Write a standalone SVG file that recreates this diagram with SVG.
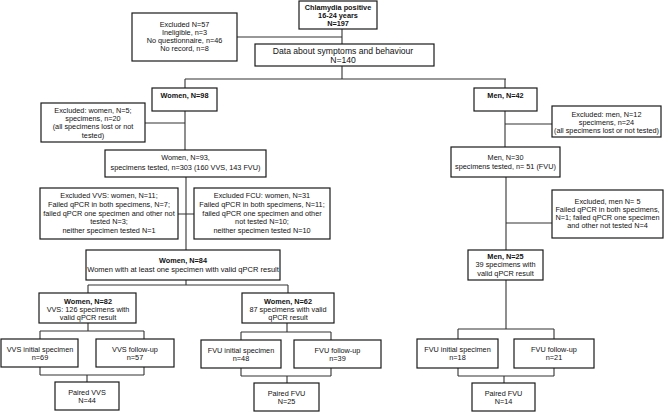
<svg xmlns="http://www.w3.org/2000/svg" width="664" height="413" viewBox="0 0 664 413">
<style>
rect{fill:#fff;stroke:#1a1a1a;stroke-width:1.2}
text{font-family:"Liberation Sans",Arial,sans-serif;font-size:7.3px;fill:#111;text-anchor:middle}
.b{font-weight:bold}
.l{font-size:8.6px}
#connectors path{fill:none;stroke:#333;stroke-width:1.1}
</style>
<rect x="0" y="0" width="664" height="413" style="stroke:none"/>
<g id="connectors">
<path d="M342,29V44M237,37H342M342,66V79M185,79H506M185,79V88M505,79V88"/>
<path d="M185,111V150M145,123H185M186,177V250M178,214H194"/>
<path d="M186,280V285M88,285H288M88,285V293M288,285V293"/>
<path d="M88,323V331M40,331H144M40,331V339M144,331V339M40,367V375M144,367V375M40,375H144M87,375V382"/>
<path d="M287,323V332M241,332H331M241,332V340M331,332V340M241,368V376M331,368V376M241,376H331M287,376V383"/>
<path d="M505,111V147M505,124H552M506,177V250M506,223H552"/>
<path d="M506,280V329M458,329H554M458,329V339M554,329V339M458,368V376M554,368V376M458,376H554M504,376V383"/>
</g>
<g id="n_chlamydia"><rect x="299" y="1" width="78" height="28"/>
<text class="b" x="338" y="10">Chlamydia positive</text><text class="b" x="338" y="18">16-24 years</text><text class="b" x="338" y="26">N=197</text></g>
<g id="n_excl57"><rect x="132" y="13" width="105" height="48"/>
<text x="184.5" y="27">Excluded N=57</text><text x="184.5" y="35">Ineligible, n=3</text><text x="184.5" y="43">No questionnaire, n=46</text><text x="184.5" y="51">No record, n=8</text></g>
<g id="n_data"><rect x="255" y="44" width="179" height="22"/>
<text class="l" x="343" y="54">Data about symptoms and behaviour</text><text class="l" x="343" y="63">N=140</text></g>
<g id="n_women98"><rect x="152" y="88" width="65" height="23"/>
<text class="b" x="184.5" y="97.5">Women, N=98</text></g>
<g id="n_exclwomen"><rect x="41" y="103" width="104" height="39"/>
<text x="93" y="112.5">Excluded: women, N=5;</text><text x="93" y="120.5">specimens, n=20</text><text x="93" y="129">(all specimens lost or not</text><text x="93" y="137.5">tested)</text></g>
<g id="n_women93"><rect x="105" y="150" width="161" height="27"/>
<text x="185.5" y="160">Women, N=93,</text><text x="185.5" y="169.5">specimens tested, n=303 (160 VVS, 143 FVU)</text></g>
<g id="n_exclvvs"><rect x="40" y="188" width="138" height="51"/>
<text x="109" y="197.5">Excluded VVS: women, N=11;</text><text x="109" y="206.5">Failed qPCR in both specimens, N=7;</text><text x="109" y="215.5">failed qPCR one specimen and other not</text><text x="109" y="224">tested N=3;</text><text x="109" y="232.5">neither specimen tested N=1</text></g>
<g id="n_exclfcu"><rect x="194" y="188" width="136" height="51"/>
<text x="262" y="197.5">Excluded FCU: women, N=31</text><text x="262" y="206.5">Failed qPCR in both specimens, N=11;</text><text x="262" y="215.5">failed qPCR one specimen and other</text><text x="262" y="224">not tested N=10;</text><text x="262" y="232.5">neither specimen tested N=10</text></g>
<g id="n_women84"><rect x="86" y="250" width="194" height="30"/>
<text class="b" x="183" y="262.5">Women, N=84</text><text x="183" y="271.5" style="font-size:7.5px">Women with at least one specimen with valid qPCR result</text></g>
<g id="n_women82"><rect x="39" y="293" width="97" height="30"/>
<text class="b" x="88" y="304">Women, N=82</text><text x="88" y="312">VVS: 126 specimens with</text><text x="88" y="320">valid qPCR result</text></g>
<g id="n_women62"><rect x="242" y="293" width="92" height="30"/>
<text class="b" x="288" y="304">Women, N=62</text><text x="288" y="312">87 specimens with valid</text><text x="288" y="320">qPCR result</text></g>
<g id="n_vvsinit"><rect x="1" y="339" width="77" height="28"/>
<text x="40" y="352">VVS initial specimen</text><text x="40" y="360">n=69</text></g>
<g id="n_vvsfu"><rect x="96" y="339" width="78" height="28"/>
<text x="135" y="352">VVS follow-up</text><text x="135" y="360">n=57</text></g>
<g id="n_pairedvvs"><rect x="55" y="382" width="64" height="28"/>
<text x="87" y="395">Paired VVS</text><text x="87" y="403">N=44</text></g>
<g id="n_fvuinitw"><rect x="201" y="340" width="80" height="28"/>
<text x="241" y="353">FVU initial specimen</text><text x="241" y="361">n=48</text></g>
<g id="n_fvufuw"><rect x="294" y="340" width="87" height="28"/>
<text x="337.5" y="353">FVU follow-up</text><text x="337.5" y="361">n=39</text></g>
<g id="n_pairedfvuw"><rect x="254" y="383" width="65" height="28"/>
<text x="286.5" y="396">Paired FVU</text><text x="286.5" y="404">N=25</text></g>
<g id="n_men42"><rect x="474" y="88" width="63" height="23"/>
<text class="b" x="505.5" y="97.5">Men, N=42</text></g>
<g id="n_exclmen12"><rect x="552" y="106" width="109" height="31"/>
<text x="606.5" y="117">Excluded: men, N=12</text><text x="606.5" y="125">specimens, n=24</text><text x="606.5" y="133">(all specimens lost or not tested)</text></g>
<g id="n_men30"><rect x="451" y="147" width="109" height="30"/>
<text x="505.5" y="160">Men, N=30</text><text x="505.5" y="168.5">specimens tested, n= 51 (FVU)</text></g>
<g id="n_exclmen5"><rect x="552" y="190" width="111" height="48"/>
<text x="607.5" y="203.5">Excluded, men N= 5</text><text x="607.5" y="211.5">Failed qPCR in both specimens,</text><text x="607.5" y="220">N=1; failed qPCR one specimen</text><text x="607.5" y="228">and other not tested N=4</text></g>
<g id="n_men25"><rect x="468" y="250" width="75" height="30"/>
<text class="b" x="505.5" y="259">Men, N=25</text><text x="505.5" y="267">39 specimens with</text><text x="505.5" y="276">valid  qPCR result</text></g>
<g id="n_fvuinitm"><rect x="417" y="339" width="81" height="29"/>
<text x="457.5" y="352">FVU initial specimen</text><text x="457.5" y="360">n=18</text></g>
<g id="n_fvufum"><rect x="514" y="339" width="80" height="29"/>
<text x="554" y="352">FVU follow-up</text><text x="554" y="360">n=21</text></g>
<g id="n_pairedfvum"><rect x="472" y="383" width="63" height="28"/>
<text x="503.5" y="396">Paired FVU</text><text x="503.5" y="404">N=14</text></g>
</svg>
